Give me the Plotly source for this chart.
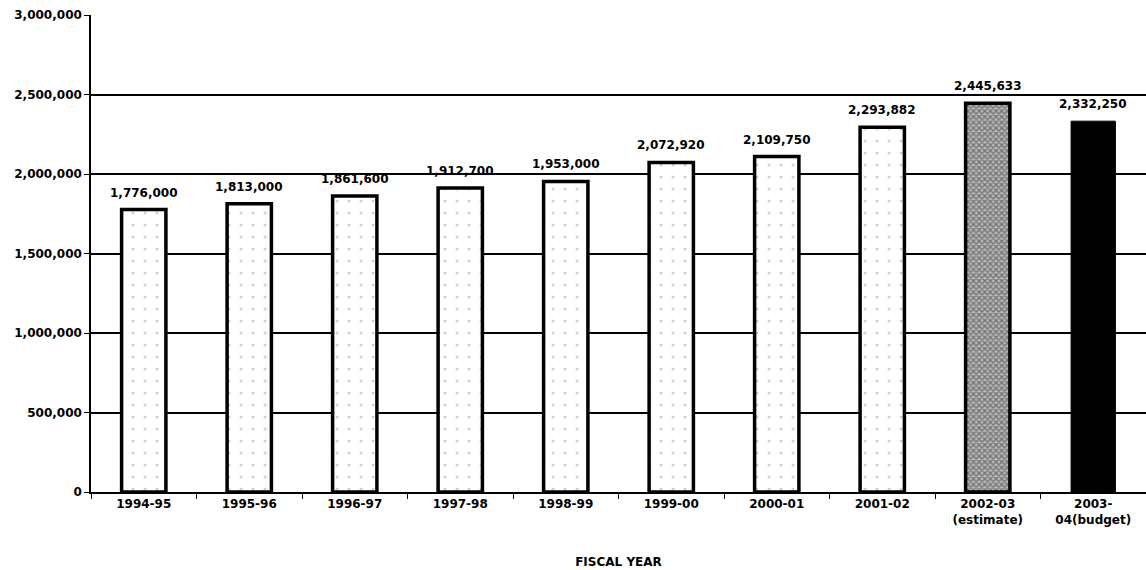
import plotly.graph_objects as go

# Fiscal-year totals
years = ["1994-95", "1995-96", "1996-97", "1997-98", "1998-99", "1999-00",
         "2000-01", "2001-02", "2002-03<br>(estimate)", "2003-<br>04(budget)"]
values = [1776000, 1813000, 1861600, 1912700, 1953000, 2072920,
          2109750, 2293882, 2445633, 2332250]
y_ticks = [0, 500000, 1000000, 1500000, 2000000, 2500000, 3000000]

font_family = "DejaVu Sans, Arial, sans-serif"

fig = go.Figure()

# actual years: white with a sparse dot stipple
fig.add_trace(go.Bar(
    x=years[:8], y=values[:8], width=0.42,
    marker=dict(color="white",
                line=dict(color="black", width=3.5),
                pattern=dict(shape=".", fgcolor="#a0a0a0", bgcolor="white",
                             size=12, solidity=0.05)),
    showlegend=False,
))
# estimate: dense grey texture
fig.add_trace(go.Bar(
    x=years[8:9], y=values[8:9], width=0.42,
    marker=dict(color="#8a8a8a",
                line=dict(color="black", width=3.5),
                pattern=dict(shape="x", fgcolor="#2e2e2e", bgcolor="#b8b8b8",
                             size=4, solidity=0.55)),
    showlegend=False,
))
# budget: solid black
fig.add_trace(go.Bar(
    x=years[9:], y=values[9:], width=0.42,
    marker=dict(color="black", line=dict(color="black", width=1)),
    showlegend=False,
))

# value labels above each bar
for cat, v in zip(years, values):
    fig.add_annotation(x=cat, y=v, text=f"<b>{v:,}</b>", showarrow=False,
                       yanchor="bottom", yshift=8,
                       font=dict(family=font_family, size=12, color="black"))

fig.update_layout(
    width=1146, height=570,
    margin=dict(l=91, r=0, t=15, b=78),
    plot_bgcolor="white", paper_bgcolor="white",
    bargap=0.58,
    font=dict(family=font_family, size=12, color="black"),
    xaxis=dict(
        type="category",
        range=[-0.5, 9.5],
        showline=True, linecolor="black", linewidth=1.5,
        ticks="outside", tickson="boundaries", ticklen=5, tickcolor="black",
        showgrid=False,
        tickfont=dict(family=font_family, size=12, color="black", weight="bold"),
        title=dict(text="<b>FISCAL YEAR</b>", standoff=32,
                   font=dict(family=font_family, size=12, color="black")),
    ),
    yaxis=dict(
        range=[0, 3000000],
        tickvals=y_ticks,
        ticktext=[f"<b>{t:,}</b>" for t in y_ticks],
        showline=True, linecolor="black", linewidth=1.5,
        ticks="outside", ticklen=5, tickcolor="black",
        showgrid=True, gridcolor="black", gridwidth=1.5,
        zeroline=False,
        tickfont=dict(family=font_family, size=12, color="black"),
    ),
)

fig.write_html("out.html")
